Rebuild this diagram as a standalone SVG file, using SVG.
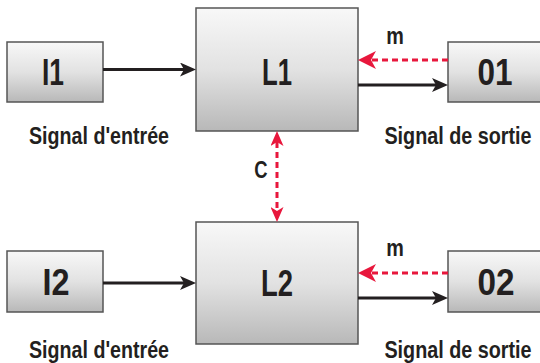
<svg xmlns="http://www.w3.org/2000/svg" width="540" height="363" viewBox="0 0 540 363">
<style>
.box{fill:url(#g);stroke:#555;stroke-width:1.5}
.big{font-family:"Liberation Sans",Arial,sans-serif;font-weight:bold;font-size:37px;fill:#231f20;text-anchor:middle}
.lbl{font-family:"Liberation Sans",Arial,sans-serif;font-weight:bold;font-size:23px;fill:#231f20;text-anchor:middle}
.blk{stroke:#231f20;stroke-width:3;fill:none;marker-end:url(#ab)}
.red{stroke:#e8173c;stroke-width:3;fill:none;stroke-dasharray:6 4}
</style>
<defs>
<linearGradient id="g" x1="0" y1="0" x2="0" y2="1">
<stop offset="0" stop-color="#f8f8f8"/>
<stop offset="0.5" stop-color="#e2e2e2"/>
<stop offset="1" stop-color="#b8b8b8"/>
</linearGradient>
<marker id="ab" markerUnits="userSpaceOnUse" markerWidth="16" markerHeight="14" refX="8" refY="7" orient="auto">
<path d="M0,0 L16,7 L0,14 L4,7 Z" fill="#231f20"/>
</marker>
<marker id="ar" markerUnits="userSpaceOnUse" markerWidth="18" markerHeight="18" refX="9" refY="9" orient="auto">
<path d="M0,0 L18,9 L0,18 L5,9 Z" fill="#e8173c"/>
</marker>
<marker id="av" markerUnits="userSpaceOnUse" markerWidth="15" markerHeight="13" refX="4" refY="6.5" orient="auto-start-reverse">
<path d="M0,0 L15,6.5 L0,13 L4,6.5 Z" fill="#e8173c"/>
</marker>
</defs>

<g id="I1"><rect class="box" x="7" y="42" width="96" height="60"/><text class="big" x="53" y="85" textLength="22" lengthAdjust="spacingAndGlyphs">I1</text></g>
<g id="L1"><rect class="box" x="196" y="8" width="162" height="123"/><text class="big" x="277" y="85" textLength="30" lengthAdjust="spacingAndGlyphs">L1</text></g>
<g id="O1"><rect class="box" x="448" y="42" width="96" height="60"/><text class="big" x="495" y="85" textLength="35" lengthAdjust="spacingAndGlyphs">01</text></g>
<g id="I2"><rect class="box" x="7" y="251" width="96" height="61"/><text class="big" x="56" y="295" textLength="27" lengthAdjust="spacingAndGlyphs">I2</text></g>
<g id="L2"><rect class="box" x="196" y="222" width="162" height="122"/><text class="big" x="277" y="296" textLength="32" lengthAdjust="spacingAndGlyphs">L2</text></g>
<g id="O2"><rect class="box" x="448" y="251" width="96" height="61"/><text class="big" x="496" y="295" textLength="37" lengthAdjust="spacingAndGlyphs">02</text></g>

<g id="labels">
<text class="lbl" transform="translate(99,144) scale(0.855,1)">Signal d'entrée</text>
<text class="lbl" transform="translate(458,144) scale(0.86,1)">Signal de sortie</text>
<text class="lbl" transform="translate(99,358) scale(0.855,1)">Signal d'entrée</text>
<text class="lbl" transform="translate(458,358) scale(0.86,1)">Signal de sortie</text>
<text class="lbl" transform="translate(395,44) scale(0.86,1)">m</text>
<text class="lbl" transform="translate(395,256) scale(0.86,1)">m</text>
<text class="lbl" transform="translate(261,178) scale(0.8,1)">C</text>
</g>

<g id="connectors">
<line class="blk" x1="103" y1="69.5" x2="188" y2="69.5"/>
<line class="blk" x1="358" y1="85" x2="440" y2="85"/>
<line class="red" x1="448" y1="60" x2="367" y2="60" marker-end="url(#ar)"/>
<line class="blk" x1="103" y1="283" x2="188" y2="283"/>
<line class="blk" x1="358" y1="298" x2="440" y2="298"/>
<line class="red" x1="448" y1="273" x2="367" y2="273" marker-end="url(#ar)"/>
<line class="red" x1="277" y1="142" x2="277" y2="211" marker-start="url(#av)" marker-end="url(#av)"/>
</g>
</svg>
